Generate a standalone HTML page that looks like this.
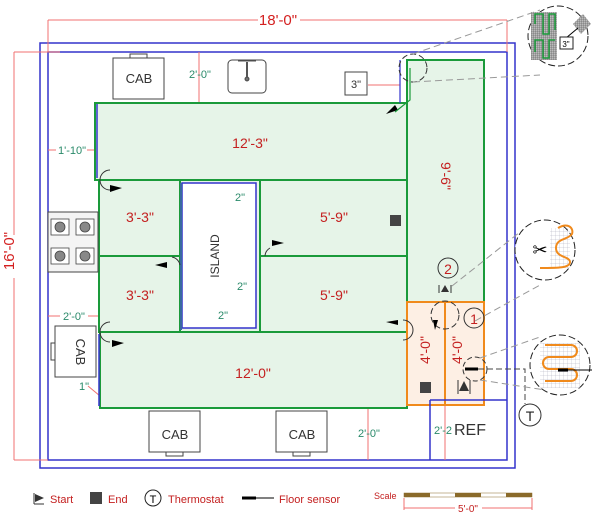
<!DOCTYPE html>
<html><head><meta charset="utf-8"><style>
html,body{margin:0;padding:0;background:#fff}
svg{display:block;font-family:"Liberation Sans",sans-serif}
</style></head><body>
<svg width="600" height="522" viewBox="0 0 600 522" xmlns="http://www.w3.org/2000/svg">
<defs>
<pattern id="grid" width="2" height="2" patternUnits="userSpaceOnUse"><rect width="2" height="2" fill="#bbb"/><path d="M2 0V2M0 2H2" stroke="#555" stroke-width="0.6" fill="none"/></pattern>
<pattern id="lgrid" width="4" height="4" patternUnits="userSpaceOnUse"><path d="M4 0V4M0 4H4" stroke="#aab" stroke-width="0.5" fill="none"/></pattern>
</defs>
<rect x="40" y="43" width="475" height="425" fill="none" stroke="#3333cc" stroke-width="1.5"/>
<rect x="48" y="52" width="459" height="408" fill="none" stroke="#3333cc" stroke-width="1.5"/>
<g stroke="#f07070" fill="none" stroke-width="1">
<line x1="48" y1="20" x2="258" y2="20"/><line x1="300" y1="20" x2="507" y2="20"/>
<line x1="48" y1="20" x2="48" y2="52"/><line x1="507" y1="20" x2="507" y2="52"/>
<line x1="14" y1="52" x2="60" y2="52"/><line x1="14" y1="52" x2="14" y2="235"/><line x1="14" y1="278" x2="14" y2="460"/><line x1="14" y1="460" x2="48" y2="460"/>
<line x1="199" y1="52" x2="199" y2="103"/>
<line x1="48" y1="150" x2="56" y2="150"/><line x1="87" y1="150" x2="95" y2="150"/>
<line x1="48" y1="316" x2="60" y2="316"/><line x1="88" y1="316" x2="99" y2="316"/>
<line x1="368" y1="85" x2="400" y2="85"/>
<line x1="213" y1="181" x2="238" y2="198"/><line x1="250" y1="290" x2="260" y2="300"/><line x1="205" y1="330" x2="218" y2="315"/>
<line x1="88" y1="386" x2="100" y2="396"/>
<line x1="368" y1="408" x2="368" y2="460"/><line x1="445" y1="405" x2="445" y2="460"/>
</g>
<text x="278" y="25" font-size="15" fill="#d42020" text-anchor="middle">18'-0"</text>
<text x="19" y="256" font-size="15" fill="#d42020" text-anchor="middle" transform="rotate(-90 14 256)">16'-0"</text>
<g fill="#e6f4e8" stroke="#1a9a3a" stroke-width="2">
<rect x="95" y="103" width="312" height="77"/>
<rect x="407" y="60" width="77" height="242"/>
<rect x="99" y="180" width="83" height="76"/>
<rect x="260" y="180" width="147" height="76"/>
<rect x="99" y="256" width="83" height="76"/>
<rect x="260" y="256" width="147" height="76"/>
<rect x="100" y="332" width="307" height="76"/>
<rect x="180" y="180" width="80" height="152"/>
</g>
<line x1="97" y1="104" x2="97" y2="178" stroke="#3333cc" stroke-width="1.5"/>
<line x1="99" y1="334" x2="99" y2="406" stroke="#3333cc" stroke-width="1.5"/>
<rect x="182" y="183" width="74" height="145" fill="#fff" stroke="#3333cc" stroke-width="1.5"/>
<line x1="181" y1="183" x2="181" y2="330" stroke="#3a6aa0" stroke-width="2"/>
<text x="219" y="256" font-size="12" fill="#333" text-anchor="middle" transform="rotate(-90 219 256)">ISLAND</text>
<g fill="#fdefe4" stroke="#f08a1c" stroke-width="2"><rect x="407" y="302" width="77" height="103"/><line x1="445" y1="302" x2="445" y2="405"/></g>
<path d="M430 400V460M430 400H507" stroke="#3333cc" stroke-width="1.5" fill="none"/>
<line x1="400" y1="60" x2="400" y2="103" stroke="#3333cc" stroke-width="1.2"/>
<g fill="#c42020" font-size="14" text-anchor="middle">
<text x="250" y="148">12'-3"</text>
<text x="140" y="222">3'-3"</text><text x="140" y="300">3'-3"</text>
<text x="334" y="222">5'-9"</text><text x="334" y="300">5'-9"</text>
<text x="253" y="378">12'-0"</text>
<text x="446" y="181" transform="rotate(90 446 176)">9'-6"</text>
<text x="430" y="358" transform="rotate(-90 426 354)">4'-0"</text>
<text x="462" y="358" transform="rotate(-90 458 354)">4'-0"</text>
</g>
<g fill="#2a8a6a" font-size="11" text-anchor="middle">
<text x="200" y="78">2'-0"</text><text x="72" y="154">1'-10"</text><text x="74" y="320">2'-0"</text>
<text x="240" y="201">2"</text><text x="242" y="290">2"</text><text x="223" y="319">2"</text>
<text x="84" y="390">1"</text><text x="369" y="437">2'-0"</text><text x="443" y="434">2'-2</text>
</g>
<text x="470" y="435" font-size="16" fill="#333" text-anchor="middle">REF</text>
<g fill="#fff" stroke="#444" stroke-width="1">
<rect x="113" y="58" width="51" height="41"/><rect x="130" y="54" width="17" height="4"/>
<rect x="228" y="60" width="38" height="33" rx="4"/>
<rect x="345" y="72" width="22" height="23"/>
<rect x="55" y="326" width="41" height="51"/><rect x="51" y="343" width="4" height="17"/>
<rect x="149" y="411" width="51" height="41"/><rect x="166" y="452" width="17" height="4"/>
<rect x="276" y="411" width="51" height="41"/><rect x="293" y="452" width="17" height="4"/>
<rect x="48" y="212" width="50" height="60" fill="#f4f4f4"/>
</g>
<g fill="#333" font-size="13" text-anchor="middle">
<text x="139" y="83">CAB</text><text x="175" y="439">CAB</text><text x="302" y="439">CAB</text>
<text x="76" y="352" transform="rotate(90 76 352)">CAB</text>
<text x="356" y="88" font-size="11">3"</text>
</g>
<g stroke="#555" stroke-width="2" fill="#555"><line x1="247" y1="62" x2="247" y2="78"/><circle cx="247" cy="79" r="1.5" fill="none"/><line x1="238" y1="61" x2="256" y2="61" stroke-width="1"/></g>
<g fill="#888" stroke="#444" stroke-width="0.8">
<rect x="51" y="219" width="18" height="16" fill="#fff"/><rect x="76" y="219" width="18" height="16" fill="#fff"/>
<rect x="51" y="248" width="18" height="16" fill="#fff"/><rect x="76" y="248" width="18" height="16" fill="#fff"/>
<circle cx="60" cy="227" r="5"/><circle cx="85" cy="227" r="5"/><circle cx="60" cy="256" r="5"/><circle cx="85" cy="256" r="5"/>
</g>
<rect x="390" y="215" width="11" height="11" fill="#444"/>
<rect x="420" y="382" width="11" height="11" fill="#444"/>
<g fill="none" stroke="#333" stroke-width="1">
<path d="M110 170a10 10 0 0 0 0 20"/><path d="M270 248a10 10 0 0 0 -5 8"/><path d="M172 257a10 10 0 0 1 8 8"/><path d="M110 322a10 10 0 0 0 0 20"/>
<path d="M403 320a10 10 0 0 1 0 20"/>
<circle cx="445" cy="315" r="14" stroke-dasharray="6 3"/><circle cx="474" cy="318" r="10"/><circle cx="448" cy="268" r="10"/>
<circle cx="413" cy="68" r="14" stroke-dasharray="6 3"/>
<circle cx="530" cy="415" r="11"/><circle cx="475" cy="369" r="12" stroke-dasharray="5 3"/>
</g>
<g fill="#000"><polygon points="110,185 122,188 110,192"/><polygon points="112,340 124,343 112,347"/>
<polygon points="272,246 284,243 272,240"/><polygon points="167,262 155,265 167,268"/><polygon points="398,320 386,322 398,325"/>
<polygon points="386,114 395,105 398,110"/><polygon points="433,320 438,320 435,330"/></g>
<path d="M410 68V100L395 112" stroke="#1a9a3a" fill="none" stroke-width="1.2"/>
<text x="448" y="274" font-size="14" fill="#c42020" text-anchor="middle">2</text>
<text x="474" y="324" font-size="14" fill="#c42020" text-anchor="middle">1</text>
<text x="530" y="421" font-size="14" fill="#222" text-anchor="middle">T</text>
<g stroke="#333"><line x1="439" y1="285" x2="439" y2="293"/><line x1="451" y1="285" x2="451" y2="293"/><line x1="458" y1="380" x2="458" y2="394"/><line x1="470" y1="380" x2="470" y2="394"/></g>
<polygon points="445,285 441,292 449,292" fill="#333"/><polygon points="464,381 459,391 469,391" fill="#333"/>
<line x1="465" y1="369" x2="478" y2="369" stroke="#000" stroke-width="3"/>
<path d="M478 369H525V404" stroke="#444" stroke-dasharray="6 3" fill="none"/>
<g stroke="#999" stroke-dasharray="7 4" fill="none">
<line x1="413" y1="54" x2="540" y2="10"/><line x1="413" y1="82" x2="540" y2="75"/>
<line x1="452" y1="286" x2="520" y2="232"/><line x1="475" y1="321" x2="540" y2="285"/>
<line x1="480" y1="358" x2="540" y2="337"/><line x1="480" y1="380" x2="545" y2="390"/>
</g>
<circle cx="558" cy="36" r="30" fill="#fff" stroke="#222" stroke-dasharray="7 3"/>
<path d="M531 12h26v48h-26z" fill="url(#grid)"/><path d="M573 24l10 -10 8 10 -10 10z" fill="url(#grid)"/>
<path d="M535 24v-10h8v20h6v-20h6v16M535 52v-12h8v18h6v-18h6" stroke="#1a9a3a" fill="none" stroke-width="1.5"/>
<line x1="566" y1="38" x2="578" y2="28" stroke="#000"/>
<rect x="560" y="37" width="13" height="12" fill="#fff" stroke="#222"/><text x="566" y="47" font-size="8" text-anchor="middle">3"</text>
<circle cx="545" cy="250" r="30" fill="#fff" stroke="#222" stroke-dasharray="7 3"/>
<rect x="550" y="228" width="20" height="40" fill="url(#lgrid)"/>
<path d="M558 228c10-6 16 0 14 6-4 6-16 4-16 14s14 8 14 14-12 6-30 6" stroke="#f08a1c" stroke-width="2" fill="none"/>
<text x="540" y="256" font-size="18" text-anchor="middle">✂</text>
<circle cx="560" cy="365" r="30" fill="#fff" stroke="#222" stroke-dasharray="7 3"/>
<rect x="540" y="343" width="40" height="45" fill="url(#lgrid)"/>
<path d="M545 345h26a6 6 0 0 1 0 12h-22a6 6 0 0 0 0 12h22a6 6 0 0 1 0 12h-26" stroke="#f08a1c" stroke-width="2" fill="none"/>
<line x1="560" y1="370" x2="592" y2="370" stroke="#000"/><line x1="558" y1="370" x2="568" y2="370" stroke="#000" stroke-width="3"/>
<polygon points="35,494 44,498 35,502" fill="#333"/><line x1="34" y1="493" x2="34" y2="504" stroke="#333"/><line x1="34" y1="504" x2="44" y2="504" stroke="#333"/>
<text x="50" y="503" font-size="11" fill="#c42020">Start</text>
<rect x="90" y="492" width="12" height="12" fill="#444"/>
<text x="108" y="503" font-size="11" fill="#c42020">End</text>
<circle cx="153" cy="498" r="8" fill="none" stroke="#222"/><text x="153" y="503" font-size="11" text-anchor="middle">T</text>
<text x="168" y="503" font-size="11" fill="#c42020">Thermostat</text>
<line x1="242" y1="498" x2="256" y2="498" stroke="#000" stroke-width="3"/><line x1="256" y1="498" x2="274" y2="498" stroke="#000"/>
<text x="279" y="503" font-size="11" fill="#c42020">Floor sensor</text>
<text x="374" y="499" font-size="9" fill="#c42020">Scale</text>
<rect x="404" y="493" width="128" height="4" fill="#fff" stroke="#8a6a2a" stroke-width="0.5"/>
<rect x="404" y="493" width="26" height="4" fill="#8a6a2a"/><rect x="455" y="493" width="26" height="4" fill="#8a6a2a"/><rect x="506" y="493" width="26" height="4" fill="#8a6a2a"/>
<g stroke="#f07070"><line x1="404" y1="498" x2="404" y2="510"/><line x1="532" y1="498" x2="532" y2="510"/><line x1="404" y1="508" x2="455" y2="508"/><line x1="482" y1="508" x2="532" y2="508"/></g>
<text x="468" y="512" font-size="10" fill="#c42020" text-anchor="middle">5'-0"</text>
</svg>
</body></html>
